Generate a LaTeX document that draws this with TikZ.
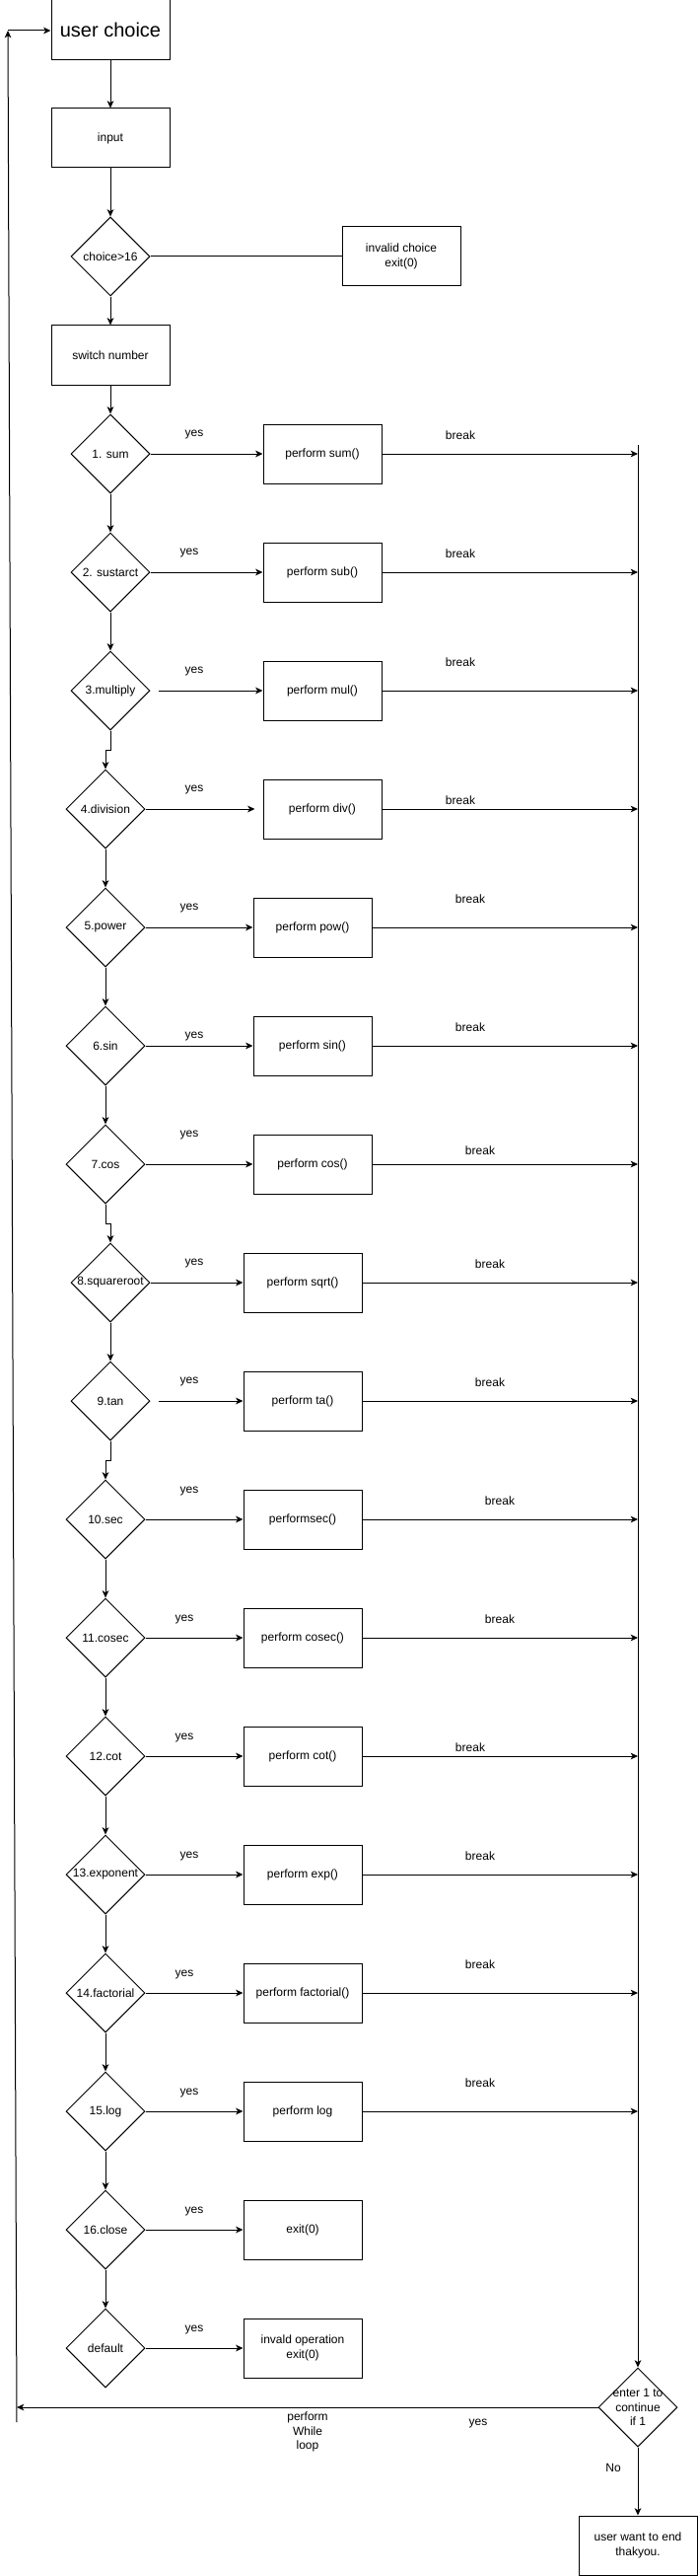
\documentclass[tikz,border=0pt]{standalone}
\usepackage{fontspec}
\setmainfont{Liberation Sans}
\usetikzlibrary{shapes.geometric,arrows.meta}

\begin{document}
\begin{tikzpicture}
[
	x=0.75pt,y=-0.75pt,
	line width=0.75pt,
	>={Stealth[length=5.5pt,width=5pt,inset=1.5pt]},
	sq/.style={rectangle,draw,line width=0.75pt,minimum height=45pt,minimum width=90pt,font=\fontsize{9}{11}\selectfont,align=center},
	dm/.style={diamond,draw,line width=0.75pt,minimum height=60pt,minimum width=60pt,inner sep=0pt,label={[font=\fontsize{9}{11}\selectfont,align=center]center:#1}},
	lbl/.style={font=\fontsize{9}{11}\selectfont,align=center,inner sep=1pt}
]
\useasboundingbox (0,0) rectangle (708,2611);

\node[sq,minimum height=45.75pt,font=\fontsize{15}{18}\selectfont] (uc) at (112,30.5) {user choice};
\node[sq] (inp) at (112,140) {input};
\node[dm=choice>16] (chk) at (112,260) {};
\node[sq] (inv) at (407,260) {invalid choice\\exit(0)};
\node[sq] (sw) at (112,360) {switch number};

\node[dm=1. sum] (d1) at (112,460) {};
\node[dm=2. sustarct] (d2) at (112,580) {};
\node[dm=3.multiply] (d3) at (112,700) {};
\node[dm=4.division] (d4) at (107,820) {};
\node[dm=5.power] (d5) at (107,940) {};
\node[dm=6.sin] (d6) at (107,1060) {};
\node[dm=7.cos] (d7) at (107,1180) {};
\node[dm=8.squareroot] (d8) at (112,1300) {};
\node[dm=9.tan] (d9) at (112,1420) {};
\node[dm=10.sec] (d10) at (107,1540) {};
\node[dm=11.cosec] (d11) at (107,1660) {};
\node[dm=12.cot] (d12) at (107,1780) {};
\node[dm=13.exponent] (d13) at (107,1900) {};
\node[dm=14.factorial] (d14) at (107,2020) {};
\node[dm=15.log] (d15) at (107,2140) {};
\node[dm=16.close] (d16) at (107,2260) {};
\node[dm=default] (dd) at (107,2380) {};

\node[sq] (p1) at (327,460) {perform sum()};
\node[sq] (p2) at (327,580) {perform sub()};
\node[sq] (p3) at (327,700) {perform mul()};
\node[sq] (p4) at (327,820) {perform div()};
\node[sq] (p5) at (317,940) {perform pow()};
\node[sq] (p6) at (317,1060) {perform sin()};
\node[sq] (p7) at (317,1180) {perform cos()};
\node[sq] (p8) at (307,1300) {perform sqrt()};
\node[sq] (p9) at (307,1420) {perform ta()};
\node[sq] (p10) at (307,1540) {performsec()};
\node[sq] (p11) at (307,1660) {perform cosec()};
\node[sq] (p12) at (307,1780) {perform cot()};
\node[sq] (p13) at (307,1900) {perform exp()};
\node[sq] (p14) at (307,2020) {perform factorial()};
\node[sq] (p15) at (307,2140) {perform log};
\node[sq] (p16) at (307,2260) {exit(0)};
\node[sq] (pd) at (307,2380) {invald operation\\exit(0)};

\node[dm={enter 1 to\\continue\\if 1}] (cont) at (647,2440) {};
\node[sq] (endb) at (647,2580) {user want to end\\thakyou.};

\coordinate (rtop) at (647,451);
\coordinate (lbot) at (17,2455);
\coordinate (ltop) at (8,31);

\node[lbl] (y1) at (197,441) {yes};
\node[lbl] (y2) at (192,561) {yes};
\node[lbl] (y3) at (197,681) {yes};
\node[lbl] (y4) at (197,801) {yes};
\node[lbl] (y5) at (192,921) {yes};
\node[lbl] (y6) at (197,1051) {yes};
\node[lbl] (y7) at (192,1151) {yes};
\node[lbl] (y8) at (197,1281) {yes};
\node[lbl] (y9) at (192,1401) {yes};
\node[lbl] (y10) at (192,1511) {yes};
\node[lbl] (y11) at (187,1641) {yes};
\node[lbl] (y12) at (187,1761) {yes};
\node[lbl] (y13) at (192,1881) {yes};
\node[lbl] (y14) at (187,2001) {yes};
\node[lbl] (y15) at (192,2121) {yes};
\node[lbl] (y16) at (197,2241) {yes};
\node[lbl] (yd) at (197,2361) {yes};

\node[lbl] (b1) at (467,441) {break};
\node[lbl] (b2) at (467,561) {break};
\node[lbl] (b3) at (467,671) {break};
\node[lbl] (b4) at (467,811) {break};
\node[lbl] (b5) at (477,911) {break};
\node[lbl] (b6) at (477,1041) {break};
\node[lbl] (b7) at (487,1166) {break};
\node[lbl] (b8) at (497,1281) {break};
\node[lbl] (b9) at (497,1401) {break};
\node[lbl] (b10) at (507,1521) {break};
\node[lbl] (b11) at (507,1641) {break};
\node[lbl] (b12) at (477,1771) {break};
\node[lbl] (b13) at (487,1881) {break};
\node[lbl] (b14) at (487,1991) {break};
\node[lbl] (b15) at (487,2111) {break};

\node[lbl] (loop) at (312,2465) {perform\\While\\loop};
\node[lbl] (ycont) at (485,2456) {yes};
\node[lbl] (ncont) at (622,2501) {No};

\draw[->] (uc) -- (inp);
\draw[->] (inp) -- (chk);
\draw (chk) -- (inv);
\draw[->] (chk) -- (sw);
\draw[->] (sw) -- (d1);

\draw[->] (d1) -- (d2);
\draw[->] (d2) -- (d3);
\draw[->] (d3.south) -- ++(0,20) -| (d4.north);
\draw[->] (d4) -- (d5);
\draw[->] (d5) -- (d6);
\draw[->] (d6) -- (d7);
\draw[->] (d7.south) -- ++(0,20) -| (d8.north);
\draw[->] (d8) -- (d9);
\draw[->] (d9.south) -- ++(0,20) -| (d10.north);
\draw[->] (d10) -- (d11);
\draw[->] (d11) -- (d12);
\draw[->] (d12) -- (d13);
\draw[->] (d13) -- (d14);
\draw[->] (d14) -- (d15);
\draw[->] (d15) -- (d16);
\draw[->] (d16) -- (dd);

\draw[->] (d1) -- (p1);
\draw[->] (d2) -- (p2);
\draw[->] ([xshift=6]d3.east) -- (p3);
\draw[->] (d4) -- ([xshift=-6]p4.west);
\draw[->] (d5) -- (p5);
\draw[->] (d6) -- (p6);
\draw[->] (d7) -- (p7);
\draw[->] (d8) -- (p8);
\draw[->] ([xshift=6]d9.east) -- (p9);
\draw[->] (d10) -- (p10);
\draw[->] (d11) -- (p11);
\draw[->] (d12) -- (p12);
\draw[->] (d13) -- (p13);
\draw[->] (d14) -- (p14);
\draw[->] (d15) -- (p15);
\draw[->] (d16) -- (p16);
\draw[->] (dd) -- (pd);

\draw[->] (p1) -- (p1 -| rtop);
\draw[->] (p2) -- (p2 -| rtop);
\draw[->] (p3) -- (p3 -| rtop);
\draw[->] (p4) -- (p4 -| rtop);
\draw[->] (p5) -- (p5 -| rtop);
\draw[->] (p6) -- (p6 -| rtop);
\draw[->] (p7) -- (p7 -| rtop);
\draw[->] (p8) -- (p8 -| rtop);
\draw[->] (p9) -- (p9 -| rtop);
\draw[->] (p10) -- (p10 -| rtop);
\draw[->] (p11) -- (p11 -| rtop);
\draw[->] (p12) -- (p12 -| rtop);
\draw[->] (p13) -- (p13 -| rtop);
\draw[->] (p14) -- (p14 -| rtop);
\draw[->] (p15) -- (p15 -| rtop);

\draw[->] (rtop) -- (cont.north);
\draw[->] (cont) -- (endb);
\draw[->] (cont.west) -- (cont -| lbot);
\draw[->] (lbot) -- (ltop);
\draw[->] (ltop) -- (uc.west |- ltop);

\end{tikzpicture}
\end{document}
